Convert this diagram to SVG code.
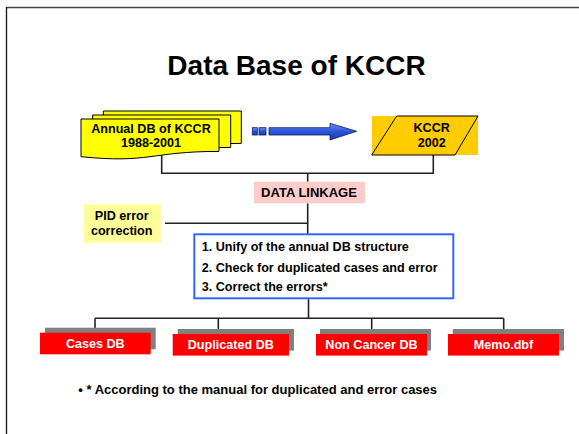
<svg xmlns="http://www.w3.org/2000/svg" width="579" height="434" viewBox="0 0 579 434">
<style>
text{font-family:"Liberation Sans",Arial,sans-serif;font-weight:bold;fill:#000}
.c{text-anchor:middle}
.t12{font-size:12.6px}
.doc{fill:#FFFF00;stroke:#000;stroke-width:1}
.ln{fill:none;stroke:#222;stroke-width:1.6}
.sh{fill:#808080}
.red{fill:#FF0000}
.w{fill:#fff}
</style>
<defs>
<linearGradient id="bg" x1="0" y1="0" x2="0" y2="1">
<stop offset="0" stop-color="#6f8ff0"/>
<stop offset="0.5" stop-color="#2a52d8"/>
<stop offset="1" stop-color="#1a3aa8"/>
</linearGradient>
<path id="docp" d="M0,0 H138 V32.4 C69,32.4 69,44.7 0,37.7 Z"/>
</defs>
<rect width="579" height="434" fill="#fff"/>
<!-- slide border -->
<line x1="6.5" y1="7.5" x2="579" y2="7.5" stroke="#444" stroke-width="1.3"/>
<line x1="6.5" y1="7" x2="6.5" y2="434" stroke="#111" stroke-width="1.3"/>

<text x="296.5" y="75" class="c" style="font-size:28px">Data Base of KCCR</text>

<g id="connectors">
<polyline class="ln" points="161.7,155 161.7,173.3 433.3,173.3 433.3,155"/>
<line class="ln" x1="307.7" y1="173.3" x2="307.7" y2="181.7"/>
<line class="ln" x1="307.7" y1="203.3" x2="307.7" y2="235"/>
<line class="ln" x1="165" y1="223.3" x2="307.7" y2="223.3"/>
<line class="ln" x1="308.5" y1="298" x2="308.5" y2="318.3"/>
<line class="ln" x1="95" y1="318.3" x2="503.7" y2="318.3"/>
<line class="ln" x1="95" y1="318.3" x2="95" y2="333"/>
<line class="ln" x1="218.3" y1="318.3" x2="218.3" y2="329.3"/>
<line class="ln" x1="371.7" y1="318.3" x2="371.7" y2="329.3"/>
<line class="ln" x1="503.7" y1="318.3" x2="503.7" y2="334"/>
</g>

<g id="annual-db">
<use href="#docp" class="doc" transform="translate(103.3,111)"/>
<use href="#docp" class="doc" transform="translate(92.7,115)"/>
<use href="#docp" class="doc" transform="translate(81,119)"/>
<text x="151" y="133" class="c t12">Annual DB of KCCR</text>
<text x="151" y="146.5" class="c t12">1988-2001</text>
</g>

<g id="arrow">
<rect x="252.3" y="127.7" width="5" height="7.3" fill="url(#bg)" stroke="#0a1f6b" stroke-width="0.8"/>
<rect x="259" y="127.7" width="7" height="7.3" fill="url(#bg)" stroke="#0a1f6b" stroke-width="0.8"/>
<path d="M269,127.7 H330 V123.3 L356.7,131.3 L330,140 V135 H269 Z" fill="url(#bg)" stroke="#0a1f6b" stroke-width="0.8"/>
</g>

<g id="kccr-2002">
<rect x="372" y="116" width="106" height="39" fill="#FFCC00"/>
<polygon points="396.7,116 478,116 455,155 371.7,155" fill="#FFCC00" stroke="#000" stroke-width="1"/>
<text x="431.7" y="132.3" class="c t12">KCCR</text>
<text x="431.7" y="146.7" class="c t12">2002</text>
</g>

<g id="data-linkage">
<rect x="254" y="181.7" width="111" height="21.6" fill="#FFCCCC"/>
<text x="309" y="196.7" class="c" style="font-size:13px">DATA LINKAGE</text>
</g>

<g id="pid">
<rect x="84" y="204.3" width="76.7" height="38.4" fill="#FFFF99"/>
<text x="121.7" y="220" class="c t12">PID error</text>
<text x="121.7" y="235" class="c t12">correction</text>
</g>

<g id="process">
<rect x="194.3" y="234.3" width="259" height="64" fill="#fff" stroke="#3366FF" stroke-width="2"/>
<text x="201.7" y="251" class="t12">1. Unify of the annual DB structure</text>
<text x="201.7" y="271.7" class="t12">2. Check for duplicated cases and error</text>
<text x="201.7" y="290.7" class="t12">3. Correct the errors*</text>
</g>

<g id="cases-db">
<rect class="sh" x="45" y="327.7" width="110.7" height="21.6"/>
<rect class="red" x="40" y="332.7" width="110.7" height="21.6"/>
<text x="95.3" y="348.3" class="c t12 w">Cases DB</text>
</g>
<g id="duplicated-db">
<rect class="sh" x="177.7" y="329" width="116.3" height="21.6"/>
<rect class="red" x="172.7" y="334" width="116.3" height="21.6"/>
<text x="230.8" y="349.3" class="c t12 w">Duplicated DB</text>
</g>
<g id="non-cancer-db">
<rect class="sh" x="320" y="329" width="111" height="21.6"/>
<rect class="red" x="316" y="334" width="111" height="21.6"/>
<text x="371.5" y="349.3" class="c t12 w">Non Cancer DB</text>
</g>
<g id="memo-dbf">
<rect class="sh" x="452.7" y="329" width="111.3" height="21.6"/>
<rect class="red" x="448" y="334" width="111" height="21.6"/>
<text x="503.5" y="349.3" class="c t12 w">Memo.dbf</text>
</g>

<text x="78.3" y="394" style="font-size:13px">• * According to the manual for duplicated and error cases</text>
</svg>
